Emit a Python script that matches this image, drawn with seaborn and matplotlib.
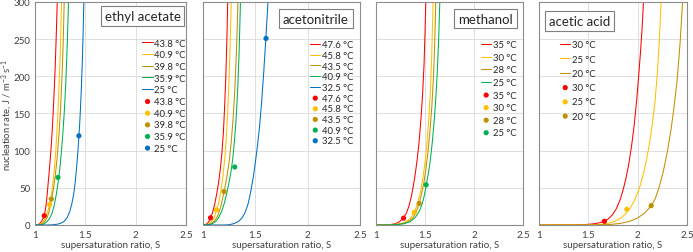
import matplotlib
matplotlib.use('Agg')
import matplotlib.pyplot as plt
import seaborn as sns
from matplotlib.ticker import MultipleLocator, FuncFormatter

# Excel-like series colours
RED, YELLOW, GOLD, GREEN, BLUE = '#FF0000', '#FFC000', '#BF9000', '#00B050', '#0070C0'

# ---- ethyl acetate ----
EA_TEMPS = ['43.8 °C', '40.9 °C', '39.8 °C', '35.9 °C', '25 °C']
EA_CURVE_S = [
    [1.00, 1.02, 1.04, 1.05, 1.06, 1.07, 1.08, 1.092, 1.10, 1.11, 1.12, 1.13, 1.14, 1.15, 1.16, 1.17,
     1.18, 1.19, 1.20, 1.21, 1.221, 1.23],
    [1.00, 1.03, 1.05, 1.07, 1.09, 1.11, 1.13, 1.145, 1.16, 1.175, 1.19, 1.205, 1.22, 1.235, 1.25,
     1.264, 1.273],
    [1.00, 1.04, 1.07, 1.10, 1.12, 1.14, 1.162, 1.18, 1.20, 1.22, 1.24, 1.255, 1.27, 1.28, 1.29, 1.298],
    [1.00, 1.06, 1.09, 1.12, 1.15, 1.17, 1.19, 1.21, 1.228, 1.245, 1.26, 1.275, 1.29, 1.30, 1.31,
     1.322, 1.333, 1.342],
    [1.00, 1.12, 1.18, 1.22, 1.26, 1.29, 1.32, 1.345, 1.365, 1.385, 1.40, 1.415, 1.428, 1.44, 1.45,
     1.46, 1.47, 1.478, 1.485, 1.493],
]
EA_CURVE_J = [
    [0, 0.2, 1.2, 2.5, 4, 6, 9, 12.5, 18, 27, 40, 55, 70, 86, 104, 125, 150, 178, 210, 250, 300, 345],
    [0, 0.3, 1.2, 3, 6.5, 12, 20, 27, 38, 53, 72, 97, 130, 172, 228, 300, 350],
    [0, 0.3, 1.5, 5, 10, 18, 33, 46, 65, 90, 125, 160, 205, 245, 300, 345],
    [0, 0.3, 1.5, 4.5, 10, 16, 26, 40, 56, 74, 95, 120, 150, 175, 205, 250, 300, 345],
    [0, 0, 0.3, 1, 2.5, 5, 10, 18, 28, 42, 58, 80, 102, 127, 152, 182, 220, 258, 300, 350],
]
EA_PT_S = [1.092, 1.145, 1.162, 1.228, 1.436]
EA_PT_J = [12.5, 27.5, 35, 64, 120]

# ---- acetonitrile ----
AN_TEMPS = ['47.6 °C', '45.8 °C', '43.5 °C', '40.9 °C', '32.5 °C']
AN_CURVE_S = [
    [1.00, 1.02, 1.04, 1.06, 1.073, 1.09, 1.11, 1.13, 1.15, 1.165, 1.18, 1.195, 1.207, 1.218, 1.228,
     1.236, 1.245],
    [1.00, 1.03, 1.06, 1.09, 1.11, 1.129, 1.15, 1.17, 1.19, 1.21, 1.225, 1.238, 1.25, 1.26, 1.268, 1.276],
    [1.00, 1.05, 1.08, 1.11, 1.14, 1.17, 1.20, 1.225, 1.25, 1.27, 1.29, 1.305, 1.32, 1.334, 1.342],
    [1.00, 1.06, 1.09, 1.12, 1.15, 1.18, 1.205, 1.229, 1.255, 1.27, 1.285, 1.30, 1.315, 1.33, 1.345,
     1.357, 1.366],
    [1.00, 1.20, 1.25, 1.30, 1.34, 1.37, 1.40, 1.43, 1.455, 1.48, 1.50, 1.52, 1.54, 1.56, 1.58, 1.60,
     1.621, 1.63],
]
AN_CURVE_J = [
    [0, 0.3, 1.8, 5.5, 9.5, 16, 27, 41, 58, 75, 96, 125, 160, 200, 248, 300, 350],
    [0, 0.3, 2, 6, 11, 19, 30, 45, 65, 92, 122, 158, 200, 245, 290, 340],
    [0, 0.5, 2, 5.5, 12, 25, 44, 62, 85, 112, 148, 185, 235, 300, 340],
    [0, 0.5, 2, 4.5, 10, 19, 30, 44, 62, 74, 90, 112, 140, 178, 232, 295, 345],
    [0, 0, 0.4, 2, 5, 9, 16, 28, 44, 64, 84, 106, 132, 165, 205, 250, 300, 325],
]
AN_PT_S = [1.072, 1.129, 1.201, 1.303, 1.602]
AN_PT_J = [9.7, 20.5, 45, 78, 251]

# ---- methanol ----
ME_TEMPS = ['35 °C', '30 °C', '28 °C', '25 °C']
ME_CURVE_S = [
    [1.00, 1.08, 1.15, 1.20, 1.24, 1.281, 1.31, 1.335, 1.36, 1.38, 1.40, 1.42, 1.44, 1.46, 1.475, 1.49,
     1.50, 1.507, 1.515],
    [1.00, 1.10, 1.18, 1.25, 1.30, 1.35, 1.391, 1.42, 1.45, 1.475, 1.50, 1.52, 1.54, 1.555, 1.568,
     1.578, 1.587],
    [1.00, 1.12, 1.20, 1.27, 1.33, 1.38, 1.41, 1.44, 1.465, 1.49, 1.51, 1.53, 1.55, 1.57, 1.585, 1.597,
     1.605, 1.613],
    [1.00, 1.14, 1.22, 1.29, 1.35, 1.40, 1.44, 1.47, 1.49, 1.512, 1.535, 1.555, 1.575, 1.595, 1.61,
     1.625, 1.638, 1.65, 1.658],
]
ME_CURVE_J = [
    [0, 0.1, 0.6, 1.8, 4.5, 9.5, 16, 25, 38, 52, 68, 88, 112, 145, 175, 215, 258, 295, 340],
    [0, 0.1, 0.6, 1.8, 4, 8.5, 17, 27, 42, 60, 84, 110, 145, 180, 225, 275, 330],
    [0, 0.1, 0.6, 1.8, 4.5, 10, 17, 29, 42, 58, 76, 98, 125, 160, 195, 235, 275, 320],
    [0, 0.1, 0.6, 1.8, 4.5, 10, 18, 28, 38, 53, 70, 88, 112, 142, 170, 205, 245, 295, 335],
]
ME_PT_S = [1.281, 1.391, 1.440, 1.512]
ME_PT_J = [9.2, 17, 29, 54]

# ---- acetic acid ----
AA_TEMPS = ['30 °C', '25 °C', '20 °C']
AA_CURVE_S = [
    [1.00, 1.30, 1.45, 1.55, 1.62, 1.662, 1.70, 1.74, 1.78, 1.82, 1.85, 1.88, 1.91, 1.94, 1.965, 1.99,
     2.01, 2.03, 2.045, 2.057, 2.066],
    [1.00, 1.45, 1.60, 1.69, 1.76, 1.82, 1.87, 1.92, 1.96, 2.00, 2.03, 2.06, 2.09, 2.12, 2.15, 2.175,
     2.20, 2.22, 2.236, 2.25],
    [1.00, 1.50, 1.70, 1.82, 1.92, 2.00, 2.07, 2.139, 2.18, 2.22, 2.26, 2.30, 2.34, 2.37, 2.40, 2.43,
     2.453, 2.465],
]
AA_CURVE_J = [
    [0, 0.05, 0.4, 1.5, 3.2, 5, 8, 13, 21, 33, 46, 62, 82, 108, 135, 168, 200, 235, 265, 295, 325],
    [0, 0.05, 0.5, 1.8, 4.5, 8.5, 14, 22, 31, 43, 55, 70, 88, 110, 137, 165, 205, 250, 295, 340],
    [0, 0.05, 0.5, 2, 5, 9.5, 16, 26, 36, 52, 72, 98, 130, 160, 195, 245, 295, 330],
]
AA_PT_S = [1.663, 1.890, 2.137]
AA_PT_J = [5, 21, 26]

COLORS5 = [RED, YELLOW, GOLD, GREEN, BLUE]

W, H = 693, 253


def setup_style():
    sns.set_style('white')
    plt.rcParams['font.family'] = ['Lato', 'DejaVu Sans']
    plt.rcParams['mathtext.default'] = 'regular'
    plt.rcParams['axes.unicode_minus'] = True


def draw_panel(fig, left, width, title, temps, curve_s, curve_j, pt_s, pt_j,
               title_xy, legend_xy, spacing, first=False):
    ax = fig.add_axes([left / W, 27 / H, width / W, 223 / H])
    colors = COLORS5[:len(temps)]

    # model curves
    for t, c, s, j in zip(temps, colors, curve_s, curve_j):
        sns.lineplot(x=s, y=j, color=c, lw=0.75, label=t, ax=ax,
                     estimator=None, sort=False)
    # measured points
    for t, c, s, j in zip(temps, colors, pt_s, pt_j):
        sns.scatterplot(x=[s], y=[j], color=c, s=14, edgecolor='none',
                        label=t, ax=ax, zorder=4)

    ax.set_xlim(1, 2.5)
    ax.set_ylim(0, 300)
    ax.xaxis.set_major_locator(MultipleLocator(0.5))
    ax.xaxis.set_minor_locator(MultipleLocator(0.1))
    ax.yaxis.set_major_locator(MultipleLocator(50))
    ax.yaxis.set_minor_locator(MultipleLocator(10))
    ax.xaxis.set_major_formatter(FuncFormatter(lambda v, p: f'{v:g}'))
    ax.grid(which='major', color='#D9D9D9', lw=0.6)
    ax.set_axisbelow(True)
    ax.tick_params(which='both', direction='inout', color='#8C8C8C',
                   labelsize=7, labelcolor='#404040', pad=2)
    ax.tick_params(which='major', length=3, width=0.6)
    ax.tick_params(which='minor', length=2.5, width=0.6)
    for sp in ax.spines.values():
        sp.set_color('#8C8C8C')
        sp.set_linewidth(0.8)

    ax.set_xlabel('supersaturation ratio, S', fontsize=7, color='#404040', labelpad=1)
    if first:
        ax.set_ylabel('nucleation rate, J / m$^{-3}$ s$^{-1}$', fontsize=6.8,
                      color='#404040')
        # keep the label fully inside the figure
        ax.yaxis.set_label_coords(-0.135, 0.5)
    else:
        ax.set_ylabel('')
        ax.tick_params(labelleft=False)

    ax.text(title_xy[0], title_xy[1], title, transform=ax.transAxes,
            ha='center', va='center', fontsize=9.5, color='#262626', zorder=6,
            bbox=dict(boxstyle='square,pad=0.3', fc='white', ec='#7F7F7F', lw=0.8))

    ax.legend(loc='upper left', bbox_to_anchor=legend_xy, frameon=False,
              fontsize=6.8, handlelength=1.1, handletextpad=0.15, borderpad=0,
              borderaxespad=0, labelspacing=spacing, markerscale=1.0)
    return ax


def main():
    setup_style()
    fig = plt.figure(figsize=(W / 100, H / 100), dpi=100)

    draw_panel(fig, 35, 151, 'ethyl acetate', EA_TEMPS, EA_CURVE_S, EA_CURVE_J,
               EA_PT_S, EA_PT_J, (0.712, 0.939), (0.711, 0.835), 0.28, first=True)
    draw_panel(fig, 203, 157, 'acetonitrile', AN_TEMPS, AN_CURVE_S, AN_CURVE_J,
               AN_PT_S, AN_PT_J, (0.72, 0.926), (0.682, 0.828), 0.175)
    draw_panel(fig, 376, 147, 'methanol', ME_TEMPS, ME_CURVE_S, ME_CURVE_J,
               ME_PT_S, ME_PT_J, (0.744, 0.926), (0.714, 0.828), 0.376)
    draw_panel(fig, 539, 148, 'acetic acid', AA_TEMPS, AA_CURVE_S, AA_CURVE_J,
               AA_PT_S, AA_PT_J, (0.274, 0.913), (0.142, 0.828), 0.556)

    fig.savefig('out.png', dpi=100, facecolor='white')


if __name__ == '__main__':
    main()
